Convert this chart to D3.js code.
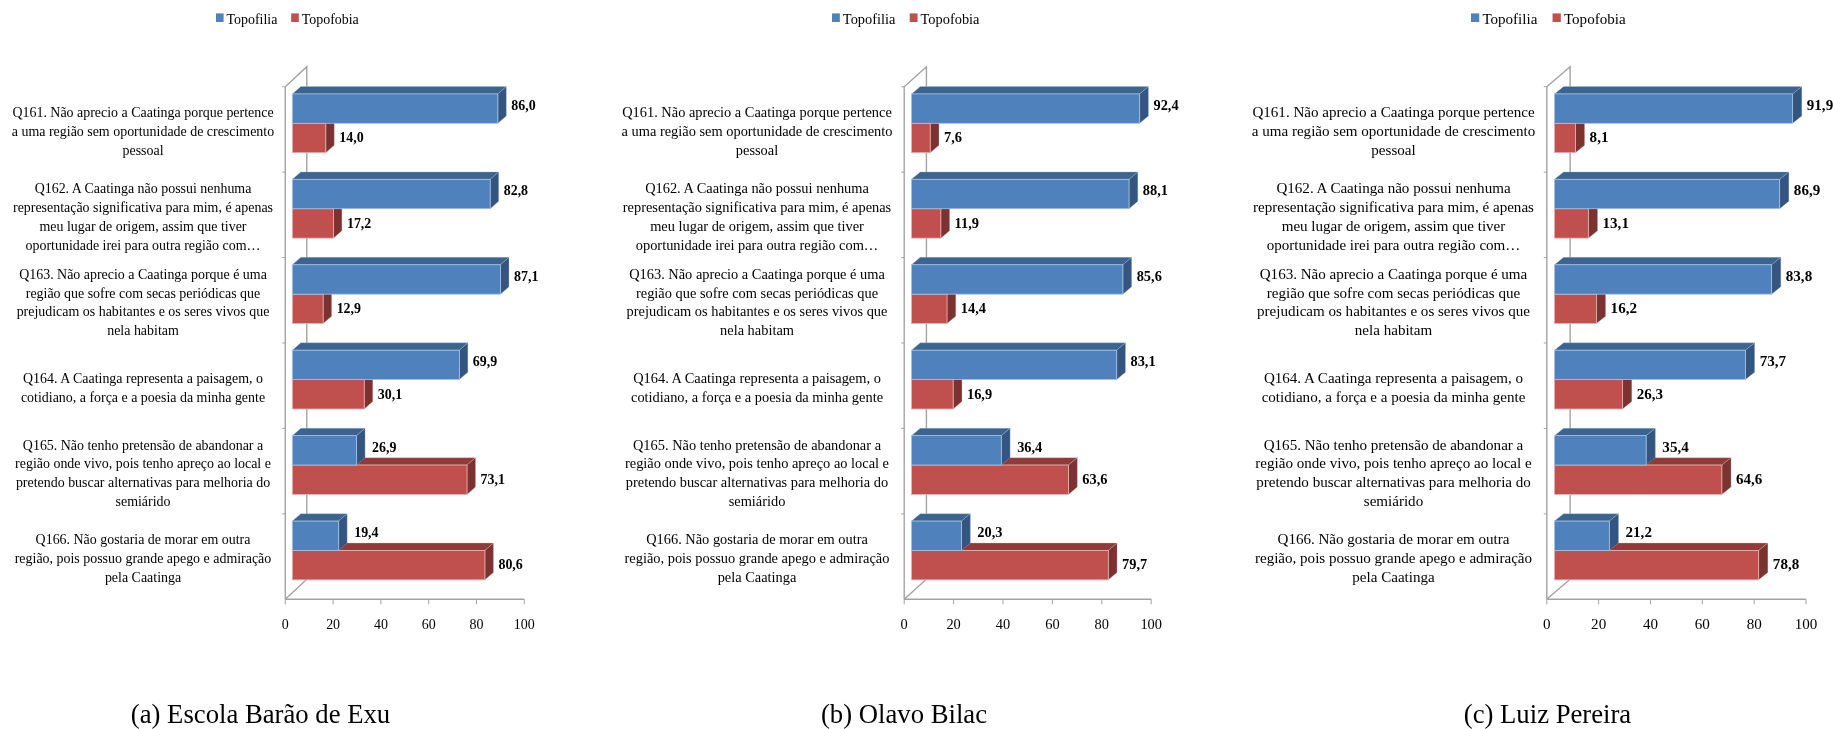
<!DOCTYPE html>
<html><head><meta charset="utf-8">
<style>html,body{margin:0;background:#fff}svg{display:block;filter:blur(.35px)}text{font-family:"Liberation Serif",serif;fill:#000}</style>
<script src="https://d3js.org/d3.v7.min.js"></script></head><body><svg id="c" width="1833" height="729"></svg>
<script>
const questions = [
 ["Q161. Não aprecio a Caatinga porque pertence","a uma região sem oportunidade de crescimento","pessoal"],
 ["Q162. A Caatinga não possui nenhuma","representação significativa para mim, é apenas","meu lugar de origem, assim que tiver","oportunidade irei para outra região com…"],
 ["Q163. Não aprecio a Caatinga porque é uma","região que sofre com secas periódicas que","prejudicam os habitantes e os seres vivos que","nela habitam"],
 ["Q164. A Caatinga representa a paisagem, o","cotidiano, a força e a poesia da minha gente"],
 ["Q165. Não tenho pretensão de abandonar a","região onde vivo, pois tenho apreço ao local e","pretendo buscar alternativas para melhoria do","semiárido"],
 ["Q166. Não gostaria de morar em outra","região, pois possuo grande apego e admiração","pela Caatinga"]
];
const seriesNames = ["Topofilia","Topofobia"];
const colors = {Topofilia:{f:"#4f81bd",t:"#3d648f",s:"#33557f",e:"#a9c3e2"},Topofobia:{f:"#c0504d",t:"#8f3b39",s:"#7c3230",e:"#e6b5b3"}};
const ticks = [0,20,40,60,80,100];
const topofiliaA = [86.0,82.8,87.1,69.9,26.9,19.4];
const topofobiaA = [14.0,17.2,12.9,30.1,73.1,80.6];
const topofiliaB = [92.4,88.1,85.6,83.1,36.4,20.3];
const topofobiaB = [7.6,11.9,14.4,16.9,63.6,79.7];
const topofiliaC = [91.9,86.9,83.8,73.7,35.4,21.2];
const topofobiaC = [8.1,13.1,16.2,26.3,64.6,78.8];
const panels = [
 {title:"(a) Escola Barão de Exu",x0:285.3,x1:524.3,fil:topofiliaA,fob:topofobiaA,lab:143,titleX:260.5,legX:216,k:.93},
 {title:"(b) Olavo Bilac",x0:904.2,x1:1151.2,fil:topofiliaB,fob:topofobiaB,lab:757,titleX:904,legX:832,k:.96},
 {title:"(c) Luiz Pereira",x0:1546.8,x1:1806,fil:topofiliaC,fob:topofobiaC,lab:1393.5,titleX:1547.5,legX:1471,k:1.005}
];
const svg = d3.select("#c");
const fmt = v => v.toFixed(1).replace(".",",");
const yTop=86.7, yBot=599.3, FS=15;
panels.forEach(p=>{
  const g = svg.append("g");
  const s = (p.x1-p.x0)/239;
  const DX=21.5*s, DY=-20, dx=8.5*s, dy=-7.4, off=7*s, bh=29.4;
  const x = d3.scaleLinear().domain([0,100]).range([p.x0,p.x1]);
  const y = d3.scaleBand().domain(questions.map((d,i)=>i)).range([yTop,yBot]);
  const gray="#a3a3a3";
  const txt=(xx,yy,t,anchor,bold)=>g.append("text").attr("transform",`translate(${xx},${yy}) scale(${p.k},1)`)
    .attr("text-anchor",anchor).attr("font-size",FS).attr("font-weight",bold?"bold":null).text(t);
  g.append("path").attr("fill","none").attr("stroke",gray).attr("stroke-width",1.4)
   .attr("d",`M${p.x0},${yTop}L${p.x0+DX},${yTop+DY}V${yBot+DY}L${p.x0},${yBot}`);
  g.append("line").attr("x1",p.x0).attr("x2",p.x0).attr("y1",yTop).attr("y2",yBot).attr("stroke",gray).attr("stroke-width",1.4);
  g.append("line").attr("x1",p.x0).attr("x2",p.x1).attr("y1",yBot).attr("y2",yBot).attr("stroke",gray).attr("stroke-width",1.4);
  ticks.forEach(t=>{
    g.append("line").attr("x1",x(t)).attr("x2",x(t)).attr("y1",yBot).attr("y2",yBot+5).attr("stroke",gray);
    txt(x(t),yBot+29.5,t,"middle");
  });
  questions.forEach((q,i)=>{
    const b=y(i);
    g.append("line").attr("x1",p.x0-3).attr("x2",p.x0).attr("y1",b).attr("y2",b).attr("stroke",gray);
    const cy=b+y.bandwidth()/2+1.6;
    q.forEach((l,j)=>txt(p.lab,cy+(j-(q.length-1)/2)*18.7+5,l,"middle"));
  });
  const drawBar=(v,top,name)=>{
    const xl=p.x0+off, xr=xl+(x(v)-x(0)), c=colors[name];
    g.append("path").attr("fill",c.t).attr("stroke",c.e).attr("stroke-width",.3).attr("d",`M${xl},${top}l${dx},${dy}H${xr+dx}l${-dx},${-dy}Z`);
    g.append("path").attr("fill",c.s).attr("stroke",c.e).attr("stroke-width",.3).attr("d",`M${xr},${top}l${dx},${dy}v${bh}l${-dx},${-dy}Z`);
    g.append("rect").attr("x",xl).attr("y",top).attr("width",xr-xl).attr("height",bh).attr("fill",c.f).attr("stroke",c.e).attr("stroke-width",.8);
  };
  questions.forEach((q,i)=>{
    const t=y(i)+7.2;
    drawBar(p.fob[i],t+bh,"Topofobia");
    drawBar(p.fil[i],t,"Topofilia");
  });
  questions.forEach((q,i)=>{
    const t=y(i)+7.2;
    const endX=v=>p.x0+off+x(v)-x(0)+dx;
    txt(endX(p.fil[i])+(p.fil[i]<40?7:5),t+16,fmt(p.fil[i]),"start",true);
    txt(endX(p.fob[i])+5,t+bh+19,fmt(p.fob[i]),"start",true);
  });
  seriesNames.forEach((n,k)=>{
    const xx=p.legX+k*75.2*s;
    g.append("rect").attr("x",xx).attr("y",13.4).attr("width",7.6*s).attr("height",8.6).attr("fill",colors[n].f);
    txt(xx+10.5*s,24,n,"start");
  });
  svg.append("text").attr("x",p.titleX).attr("y",722.5).attr("text-anchor","middle").attr("font-size",26.7).text(p.title);
});
</script></body></html>
